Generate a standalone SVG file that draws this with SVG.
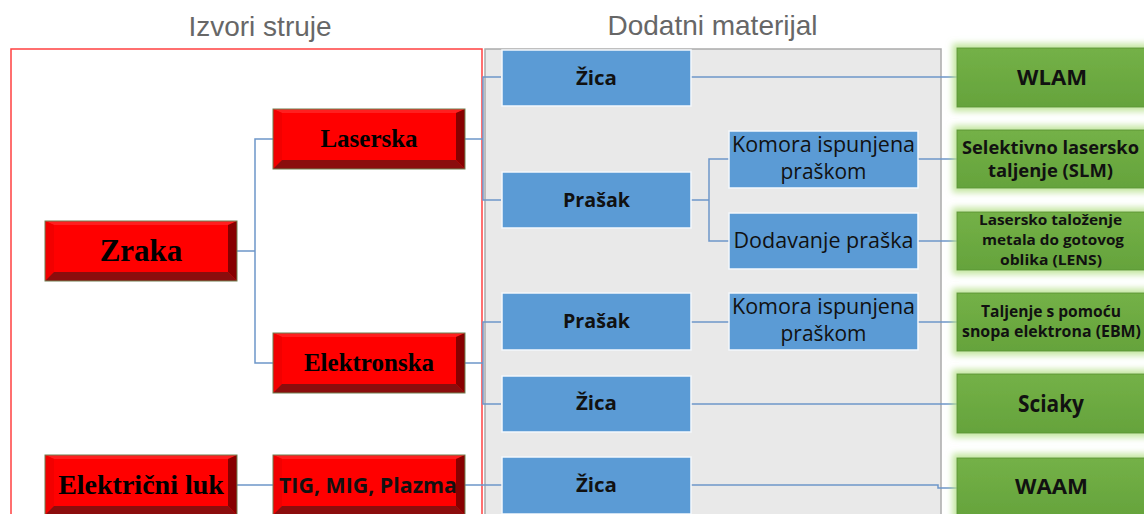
<svg xmlns="http://www.w3.org/2000/svg" xmlns:xlink="http://www.w3.org/1999/xlink" width="1144" height="514" viewBox="0 0 1144 514">
<style>
.title{font-family:"Liberation Sans",Arial,sans-serif;font-size:28px;fill:#676767;text-anchor:middle}
.rt{font-family:"Liberation Serif","Times New Roman",serif;font-weight:bold;fill:#000;text-anchor:middle}
.st{font-family:"Open Sans",Lato,sans-serif;fill:#111;text-anchor:middle}
.b{font-weight:bold}
.blue{fill:#5b9bd5;stroke:#f4f8fc;stroke-width:1.5}
.green{fill:url(#gg);stroke:#5c9637;stroke-width:1}
.con{fill:none;stroke:#6d96c9;stroke-width:1.5}
.bt{fill:#ff1f1f}.bl{fill:#f20000}.br{fill:#870000}.bb{fill:#8b0d0d}
</style>
<defs>
<linearGradient id="gg" x1="0" y1="0" x2="0" y2="1">
<stop offset="0" stop-color="#74b147"/>
<stop offset="1" stop-color="#65a33c"/>
</linearGradient>
<filter id="glow" x="-20%" y="-40%" width="140%" height="180%">
<feMorphology in="SourceAlpha" operator="dilate" radius="4" result="d"/>
<feGaussianBlur in="d" stdDeviation="3" result="bl"/>
<feFlood flood-color="#b9e28f" flood-opacity="0.85"/>
<feComposite in2="bl" operator="in" result="g"/>
<feMerge><feMergeNode in="g"/><feMergeNode in="SourceGraphic"/></feMerge>
</filter>
<g id="bevel">
<rect width="192" height="60" fill="#ff0000"/>
<polygon class="bt" points="0,0 192,0 183,4 9,4"/>
<polygon class="bl" points="0,0 9,4 9,51 0,60"/>
<polygon class="br" points="192,0 192,60 183,51 183,4"/>
<polygon class="bb" points="0,60 9,51 183,51 192,60"/>
<rect width="192" height="60" fill="none" stroke="#6f7f50" stroke-width="1"/>
</g>
</defs>
<rect width="1144" height="514" fill="#fff"/>
<text class="title" x="260" y="36">Izvori struje</text>
<text class="title" x="712.5" y="35">Dodatni materijal</text>
<rect id="panel-dodatni" x="485" y="49" width="456" height="480" fill="#e9e9e9" stroke="#ababab" stroke-width="1.5"/>
<rect id="panel-izvori" x="11" y="49" width="471" height="480" fill="none" stroke="#ff4040" stroke-width="1.5"/>
<g id="connectors">
<path class="con" d="M273,139 H255 V363 H273 M237,251 H255"/>
<path class="con" d="M465,139 H483 M501,77 H483 V200 H501"/>
<path class="con" d="M465,363 H483 M501,322 H483 V404 H501"/>
<path class="con" d="M237,485 H273 M465,485 H502"/>
<path class="con" d="M691,77 H957"/>
<path class="con" d="M691,200 H709 M729,159 H709 V241 H729"/>
<path class="con" d="M918,159 H957 M918,241 H957"/>
<path class="con" d="M691,322 H729 M918,322 H957"/>
<path class="con" d="M691,404 H957"/>
<path class="con" d="M691,485 H938 V488 H957"/>
</g>
<g id="n-laserska"><use xlink:href="#bevel" x="273" y="109"/><text class="rt" x="369" y="147" font-size="25">Laserska</text></g>
<g id="n-zraka"><use xlink:href="#bevel" x="45" y="221"/><text class="rt" x="141" y="261" font-size="31">Zraka</text></g>
<g id="n-elektronska"><use xlink:href="#bevel" x="273" y="333"/><text class="rt" x="369" y="371" font-size="25">Elektronska</text></g>
<g id="n-elektricni-luk"><use xlink:href="#bevel" x="45" y="455"/><text class="rt" x="141" y="494" font-size="28">Električni luk</text></g>
<g id="n-tig"><use xlink:href="#bevel" x="273" y="455"/><text class="st b" x="368" y="493" font-size="21" textLength="178" lengthAdjust="spacingAndGlyphs">TIG, MIG, Plazma</text></g>
<g id="n-zica1"><rect class="blue" x="502" y="50" width="189" height="56"/><text class="st b" x="596.5" y="85" font-size="20" textLength="41" lengthAdjust="spacingAndGlyphs">Žica</text></g>
<g id="n-prasak1"><rect class="blue" x="502" y="172" width="189" height="56"/><text class="st b" x="596.5" y="207" font-size="20" textLength="67" lengthAdjust="spacingAndGlyphs">Prašak</text></g>
<g id="n-komora1"><rect class="blue" x="729" y="131" width="189" height="57"/><text class="st" x="823.5" y="152" font-size="21" textLength="183" lengthAdjust="spacingAndGlyphs">Komora ispunjena</text><text class="st" x="823.5" y="179" font-size="21" textLength="86" lengthAdjust="spacingAndGlyphs">praškom</text></g>
<g id="n-dodavanje"><rect class="blue" x="729" y="213" width="189" height="56"/><text class="st" x="823.5" y="248" font-size="21" textLength="180" lengthAdjust="spacingAndGlyphs">Dodavanje praška</text></g>
<g id="n-prasak2"><rect class="blue" x="502" y="293" width="189" height="57"/><text class="st b" x="596.5" y="328" font-size="20" textLength="67" lengthAdjust="spacingAndGlyphs">Prašak</text></g>
<g id="n-komora2"><rect class="blue" x="729" y="293" width="189" height="57"/><text class="st" x="823.5" y="314" font-size="21" textLength="183" lengthAdjust="spacingAndGlyphs">Komora ispunjena</text><text class="st" x="823.5" y="341" font-size="21" textLength="86" lengthAdjust="spacingAndGlyphs">praškom</text></g>
<g id="n-zica3"><rect class="blue" x="502" y="376" width="189" height="56"/><text class="st b" x="596.5" y="410" font-size="20" textLength="41" lengthAdjust="spacingAndGlyphs">Žica</text></g>
<g id="n-zica4"><rect class="blue" x="502" y="457" width="189" height="57"/><text class="st b" x="596.5" y="492" font-size="20" textLength="41" lengthAdjust="spacingAndGlyphs">Žica</text></g>
<g id="n-wlam"><rect class="green" filter="url(#glow)" x="957" y="48" width="190" height="59"/><text class="st b" x="1052" y="85" font-size="21" textLength="70" lengthAdjust="spacingAndGlyphs">WLAM</text></g>
<g id="n-slm"><rect class="green" filter="url(#glow)" x="957" y="130" width="190" height="58"/><text class="st b" x="1050.5" y="154" font-size="17" textLength="177" lengthAdjust="spacingAndGlyphs">Selektivno lasersko</text><text class="st b" x="1050.5" y="177" font-size="17" textLength="125" lengthAdjust="spacingAndGlyphs">taljenje (SLM)</text></g>
<g id="n-lens"><rect class="green" filter="url(#glow)" x="957" y="212" width="190" height="58"/><text class="st b" x="1050.5" y="225" font-size="14.5" textLength="143" lengthAdjust="spacingAndGlyphs">Lasersko taloženje</text><text class="st b" x="1053" y="245" font-size="14.5" textLength="142" lengthAdjust="spacingAndGlyphs">metala do gotovog</text><text class="st b" x="1051" y="265" font-size="14.5" textLength="102" lengthAdjust="spacingAndGlyphs">oblika (LENS)</text></g>
<g id="n-ebm"><rect class="green" filter="url(#glow)" x="957" y="293" width="190" height="58"/><text class="st b" x="1051" y="317" font-size="15.5" textLength="140" lengthAdjust="spacingAndGlyphs">Taljenje s pomoću</text><text class="st b" x="1051.5" y="337" font-size="15.5" textLength="179" lengthAdjust="spacingAndGlyphs">snopa elektrona (EBM)</text></g>
<g id="n-sciaky"><rect class="green" filter="url(#glow)" x="957" y="374" width="190" height="59"/><text class="st b" x="1051" y="412" font-size="23" textLength="66" lengthAdjust="spacingAndGlyphs">Sciaky</text></g>
<g id="n-waam"><rect class="green" filter="url(#glow)" x="957" y="458" width="190" height="60"/><text class="st b" x="1051.5" y="494" font-size="21" textLength="73" lengthAdjust="spacingAndGlyphs">WAAM</text></g>
</svg>
